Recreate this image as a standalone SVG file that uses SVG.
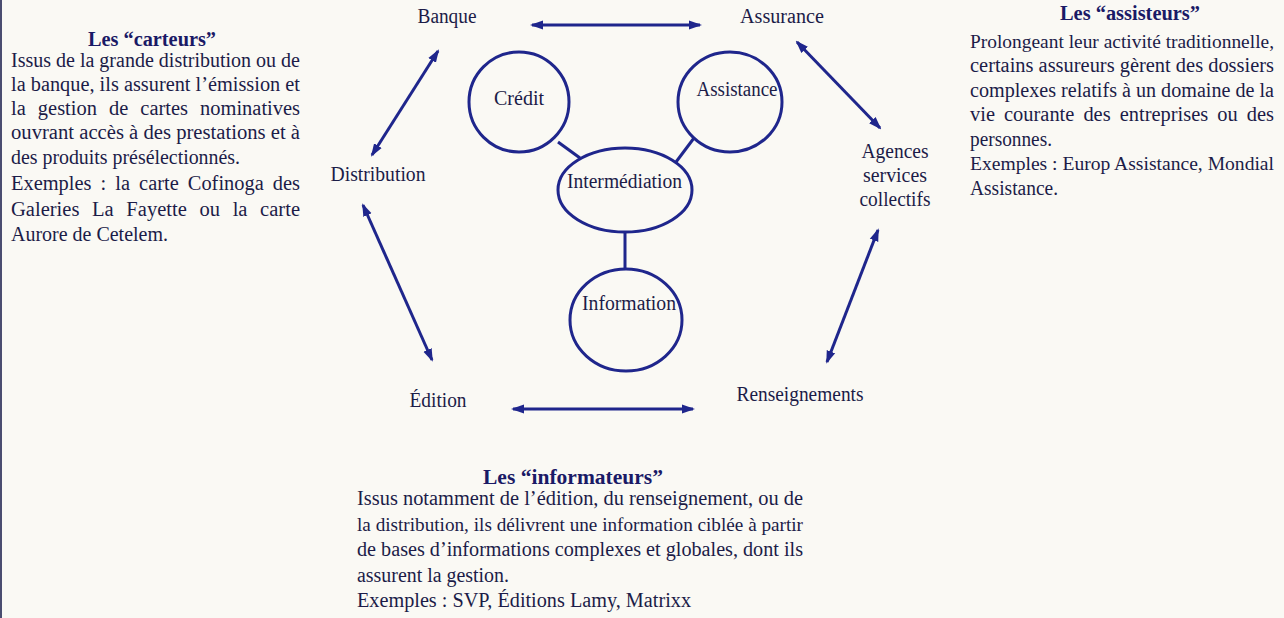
<svg xmlns="http://www.w3.org/2000/svg" width="1284" height="618" viewBox="0 0 1284 618">
  <defs>
    <marker id="ah" markerUnits="userSpaceOnUse" markerWidth="13" markerHeight="10" refX="11" refY="4.5" orient="auto-start-reverse" viewBox="0 0 13 9">
      <path d="M0,0 L13,4.5 L0,9 Z" fill="#1f268c"/>
    </marker>
    <style>
      text { font-family: "Liberation Serif", "Times New Roman", serif; fill: #1c1c48; }
      .body { font-size: 20.5px; }
      .tight { font-size: 19.4px; }
      .title { font-size: 20.5px; font-weight: bold; fill: #1a1a66; text-anchor: middle; }
      .lbl { font-size: 20px; text-anchor: middle; }
      .shape { fill: none; stroke: #1f268c; stroke-width: 3; }
      .conn { stroke: #1f268c; stroke-width: 3; fill: none; }
      .arr { stroke: #1f268c; stroke-width: 3; fill: none; marker-start: url(#ah); marker-end: url(#ah); }
    </style>
  </defs>
  <rect x="0" y="0" width="1284" height="618" fill="#faf9f4"/>
  <line x1="1" y1="0" x2="1" y2="618" stroke="#4a4d70" stroke-width="2"/>

  <g id="carteurs">
    <text class="title" x="152" y="46" textLength="128" lengthAdjust="spacingAndGlyphs">Les “carteurs”</text>
    <text class="body" x="11" y="67" textLength="289" lengthAdjust="spacingAndGlyphs">Issus de la grande distribution ou de</text>
    <text class="body" x="11" y="91" textLength="289" lengthAdjust="spacingAndGlyphs">la banque, ils assurent l’émission et</text>
    <text class="body" x="11" y="115" textLength="289" lengthAdjust="spacingAndGlyphs" word-spacing="7">la gestion de cartes nominatives</text>
    <text class="body" x="11" y="139" textLength="289" lengthAdjust="spacingAndGlyphs">ouvrant accès à des prestations et à</text>
    <text class="body" x="11" y="164" textLength="229" lengthAdjust="spacingAndGlyphs">des produits présélectionnés.</text>
    <text class="body" x="11" y="190" textLength="289" lengthAdjust="spacingAndGlyphs" word-spacing="4">Exemples : la carte Cofinoga des</text>
    <text class="body" x="11" y="216" textLength="289" lengthAdjust="spacingAndGlyphs" word-spacing="7.5">Galeries La Fayette ou la carte</text>
    <text class="body" x="11" y="241" textLength="157" lengthAdjust="spacingAndGlyphs">Aurore de Cetelem.</text>
  </g>

  <g id="assisteurs">
    <text class="title" x="1130" y="20" textLength="140" lengthAdjust="spacingAndGlyphs">Les “assisteurs”</text>
    <text class="tight" x="970" y="48" textLength="304" lengthAdjust="spacingAndGlyphs">Prolongeant leur activité traditionnelle,</text>
    <text class="body" x="970" y="72" textLength="304" lengthAdjust="spacingAndGlyphs">certains assureurs gèrent des dossiers</text>
    <text class="body" x="970" y="97" textLength="304" lengthAdjust="spacingAndGlyphs">complexes relatifs à un domaine de la</text>
    <text class="body" x="970" y="121" textLength="304" lengthAdjust="spacingAndGlyphs" word-spacing="4">vie courante des entreprises ou des</text>
    <text class="body" x="970" y="146" textLength="82" lengthAdjust="spacingAndGlyphs">personnes.</text>
    <text class="tight" x="970" y="170" textLength="304" lengthAdjust="spacingAndGlyphs">Exemples : Europ Assistance, Mondial</text>
    <text class="body" x="970" y="195" textLength="88" lengthAdjust="spacingAndGlyphs">Assistance.</text>
  </g>

  <g id="informateurs">
    <text class="title" x="573" y="484" textLength="180" lengthAdjust="spacingAndGlyphs">Les “informateurs”</text>
    <text class="body" x="357" y="505" textLength="446" lengthAdjust="spacingAndGlyphs">Issus notamment de l’édition, du renseignement, ou de</text>
    <text class="tight" x="357" y="530.5" textLength="446" lengthAdjust="spacingAndGlyphs">la distribution, ils délivrent une information ciblée à partir</text>
    <text class="body" x="357" y="556" textLength="446" lengthAdjust="spacingAndGlyphs">de bases d’informations complexes et globales, dont ils</text>
    <text class="body" x="357" y="581.5" textLength="152" lengthAdjust="spacingAndGlyphs">assurent la gestion.</text>
    <text class="body" x="357" y="607" textLength="334" lengthAdjust="spacingAndGlyphs">Exemples : SVP, Éditions Lamy, Matrixx</text>
  </g>

  <g id="connectors">
    <line class="arr" x1="532" y1="25" x2="700" y2="25"/>
    <line class="arr" x1="438" y1="51" x2="372" y2="155"/>
    <line class="arr" x1="363" y1="205" x2="432" y2="360"/>
    <line class="arr" x1="513" y1="409" x2="693" y2="409"/>
    <line class="arr" x1="827" y1="362" x2="878" y2="230"/>
    <line class="arr" x1="797" y1="42" x2="880" y2="128"/>
    <line class="conn" x1="558" y1="142" x2="580" y2="158"/>
    <line class="conn" x1="694" y1="138" x2="676" y2="162"/>
    <line class="conn" x1="625" y1="232" x2="625" y2="269"/>
  </g>

  <g id="banque"><text class="lbl" x="447" y="23" textLength="59" lengthAdjust="spacingAndGlyphs">Banque</text></g>
  <g id="assurance"><text class="lbl" x="782" y="23" textLength="84" lengthAdjust="spacingAndGlyphs">Assurance</text></g>
  <g id="distribution"><text class="lbl" x="378" y="181" textLength="95" lengthAdjust="spacingAndGlyphs">Distribution</text></g>
  <g id="agences">
    <text class="lbl" x="895" y="158" textLength="67" lengthAdjust="spacingAndGlyphs">Agences</text>
    <text class="lbl" x="895" y="182" textLength="64" lengthAdjust="spacingAndGlyphs">services</text>
    <text class="lbl" x="895" y="206" textLength="71" lengthAdjust="spacingAndGlyphs">collectifs</text>
  </g>
  <g id="edition"><text class="lbl" x="438" y="407" textLength="57" lengthAdjust="spacingAndGlyphs">Édition</text></g>
  <g id="renseignements"><text class="lbl" x="800" y="401" textLength="127" lengthAdjust="spacingAndGlyphs">Renseignements</text></g>

  <g id="credit">
    <ellipse class="shape" cx="519" cy="102" rx="50" ry="50"/>
    <text class="lbl" x="519" y="105" textLength="50" lengthAdjust="spacingAndGlyphs">Crédit</text>
  </g>
  <g id="assistance">
    <ellipse class="shape" cx="730" cy="102" rx="52" ry="50"/>
    <text class="lbl" x="737" y="96" textLength="81" lengthAdjust="spacingAndGlyphs">Assistance</text>
  </g>
  <g id="intermediation">
    <ellipse class="shape" cx="625" cy="190" rx="67" ry="42"/>
    <text class="lbl" x="624.5" y="188" textLength="115" lengthAdjust="spacingAndGlyphs">Intermédiation</text>
  </g>
  <g id="information">
    <ellipse class="shape" cx="626" cy="320" rx="56" ry="51"/>
    <text class="lbl" x="629" y="310" textLength="94" lengthAdjust="spacingAndGlyphs">Information</text>
  </g>
</svg>
